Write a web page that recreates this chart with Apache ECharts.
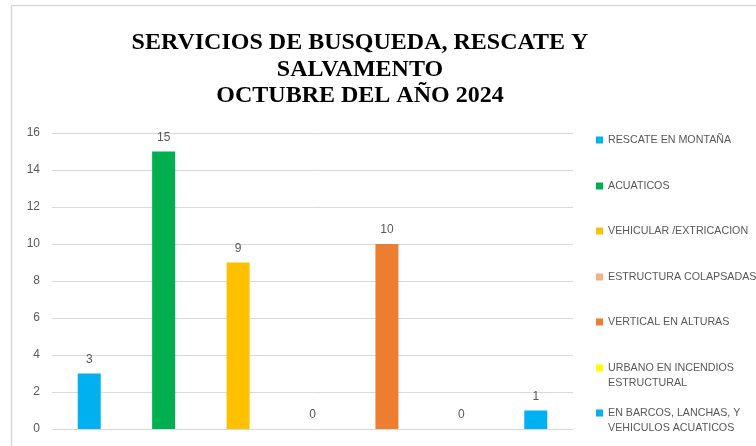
<!DOCTYPE html>
<html>
<head>
    <meta charset="utf-8">
    <title>ECharts</title>
    <script src="https://cdn.jsdelivr.net/npm/echarts@6/dist/echarts.min.js"></script>
    <style type="text/css">
    html, body { margin: 0; padding: 0; background: #fff; }
    </style>
</head>
<body>
    <div id="main" style="width: 756px;height:446px;"></div>
    <script type="text/javascript">
        // categorias (tambien son la leyenda)
        var categorias = ['RESCATE EN MONTAÑA', 'ACUATICOS', 'VEHICULAR /EXTRICACION', 'ESTRUCTURA COLAPSADAS',
            'VERTICAL EN ALTURAS', 'URBANO EN INCENDIOS ESTRUCTURAL', 'EN BARCOS, LANCHAS, Y VEHICULOS ACUATICOS'];
        // texto de la leyenda con salto de linea
        var etiquetasLeyenda = ['RESCATE EN MONTAÑA', 'ACUATICOS', 'VEHICULAR /EXTRICACION', 'ESTRUCTURA COLAPSADAS',
            'VERTICAL EN ALTURAS', 'URBANO EN INCENDIOS\nESTRUCTURAL', 'EN BARCOS, LANCHAS, Y\nVEHICULOS ACUATICOS'];
        // servicios de octubre 2024
        var valores = [3, 15, 9, 0, 10, 0, 1];
        var colores = ['#00B0F0', '#00B050', '#FFC000', '#F4B183', '#ED7D31', '#FFFF00', '#00B0F0'];
        // eje y
        var ejeY = [0, 2, 4, 6, 8, 10, 12, 14, 16];

        var myChart = echarts.init(document.getElementById('main'));

        var series = [];
        var leyendas = [];
        // centro de la primera linea de cada entrada de la leyenda
        var yLeyenda = [140, 186, 231, 277, 322, 368, 413];
        for (var i = 0; i < categorias.length; i++) {
            var datos = categorias.map(function (c, j) { return j === i ? valores[i] : '-'; });
            series.push({
                name: categorias[i],
                type: 'bar',
                data: datos,
                barWidth: 23,
                barGap: '-100%',
                itemStyle: { color: colores[i] },
                label: {
                    show: true,
                    position: 'top',
                    distance: 8,
                    color: '#595959',
                    fontFamily: 'Liberation Sans',
                    fontSize: 12
                }
            });
            var dosLineas = etiquetasLeyenda[i].indexOf('\n') >= 0;
            // en las entradas de dos lineas el cuadro queda alineado con la primera linea
            leyendas.push({
                left: 596,
                top: yLeyenda[i] - 7.5,
                padding: 0,
                itemWidth: 7,
                itemHeight: dosLineas ? 22 : 7,
                icon: dosLineas ? 'path://M0,0L7,0L7,7L0,7ZM0,22L0.01,22' : 'rect',
                selectedMode: false,
                formatter: (function (t) { return function () { return t; }; })(etiquetasLeyenda[i]),
                textStyle: {
                    color: '#595959',
                    fontFamily: 'Liberation Sans',
                    fontSize: 10.7,
                    lineHeight: 15
                },
                data: [categorias[i]]
            });
        }

        var option = {
            animation: false,
            backgroundColor: '#fff',
            title: {
                text: 'SERVICIOS DE BUSQUEDA, RESCATE Y\nSALVAMENTO\nOCTUBRE DEL AÑO 2024',
                left: 360,
                top: 30,
                padding: 0,
                textAlign: 'center',
                textStyle: {
                    fontFamily: 'Liberation Serif',
                    fontWeight: 'bold',
                    fontSize: 24,
                    lineHeight: 26.5,
                    color: '#000'
                }
            },
            graphic: [{
                type: 'rect',
                shape: { x: 11.5, y: 5.5, width: 800, height: 500 },
                style: { fill: null, stroke: '#d9d9d9', lineWidth: 1.5 },
                silent: true
            }],
            legend: leyendas,
            grid: { left: 52, right: 183, top: 133, bottom: 17 },
            xAxis: {
                type: 'category',
                data: categorias,
                axisLine: { lineStyle: { color: '#d9d9d9' } },
                axisTick: { show: false },
                axisLabel: { show: false }
            },
            yAxis: {
                type: 'value',
                min: ejeY[0],
                max: ejeY[ejeY.length - 1],
                interval: 2,
                axisLine: { show: false },
                axisTick: { show: false },
                splitLine: { lineStyle: { color: '#d9d9d9' } },
                axisLabel: {
                    color: '#595959',
                    fontFamily: 'Liberation Sans',
                    fontSize: 12,
                    margin: 12
                }
            },
            series: series
        };
        myChart.setOption(option);
    </script>
</body>
</html>
